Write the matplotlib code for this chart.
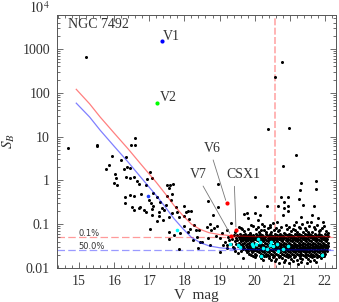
import matplotlib
matplotlib.use('Agg')
import matplotlib.pyplot as plt
from matplotlib.ticker import FixedLocator, LogLocator, NullFormatter, MultipleLocator

plt.rcParams['font.family'] = 'Liberation Serif'
plt.rcParams['mathtext.fontset'] = 'stix'

# isolated field stars (V mag, S_B)
star_v = [15.20, 14.68, 15.50, 15.52, 16.48, 16.59, 16.59, 20.77, 20.59, 20.39, 20.98,
          21.19, 20.81, 21.31, 21.76, 21.29, 21.75, 20.02, 20.74, 20.95, 21.26, 20.83,
          21.37, 21.69, 20.34, 20.67, 20.84, 20.96,
          15.94, 15.85, 15.76, 16.20, 16.33, 16.02, 16.06, 16.00, 16.09, 16.27, 16.37,
          16.46, 16.57, 16.35, 16.44, 16.66, 16.72, 16.93, 17.01, 17.09,
          16.31, 16.32, 16.45, 16.56, 16.76, 16.50, 16.71, 16.84, 16.56, 16.74, 16.90,
          16.99, 16.92, 17.11, 17.06, 17.11, 17.08, 17.22, 17.31, 17.35, 17.29, 17.27,
          17.07, 17.21, 17.03, 17.51, 17.59, 17.67, 17.56, 17.65, 17.50, 17.61, 17.48,
          17.41, 17.64, 17.57, 17.40, 17.76, 17.80, 17.84, 17.56, 17.71, 17.57, 17.84,
          17.87, 17.99, 18.05, 18.11, 18.19, 17.98, 18.14, 18.27, 18.00, 18.16, 18.11,
          18.33, 18.41, 18.35, 18.24, 18.44, 18.39, 18.66, 18.63, 18.73, 18.75, 18.84,
          18.94, 18.96, 18.68, 18.80, 18.95, 18.91, 19.01, 19.08, 19.20, 19.28, 19.09,
          19.55, 19.63, 19.70, 19.89, 20.01, 19.82, 19.34, 19.77, 20.10, 20.15, 20.27,
          20.44, 20.81, 20.96, 21.32, 21.48, 21.62, 21.81, 21.95, 21.19, 20.63,
          19.32, 19.22, 19.42, 19.01, 18.73, 18.49, 19.68,
          19.15, 19.25, 19.38, 19.40, 19.45, 19.52, 19.60, 19.35, 19.20]
star_s = [670, 5.6, 6.4, 6.0, 6.4, 6.4, 9.4, 500, 226, 14.8, 15.7,
          3.8, 2.17, 0.86, 0.95, 0.59, 0.64, 0.41, 0.42, 0.42, 0.38, 0.32,
          0.28, 0.26, 0.26, 0.26, 0.24, 0.26,
          3.6, 2.24, 1.82, 2.9, 3.4, 1.4, 1.15, 0.86, 0.78, 1.79, 2.0,
          1.95, 1.17, 1.2, 1.15, 0.98, 0.83, 1.06, 1.58, 1.15,
          0.41, 0.30, 0.47, 0.45, 0.49, 0.25, 0.24, 0.21, 0.21, 0.25, 0.19,
          0.36, 0.80, 0.51, 0.30, 0.26, 0.22, 0.41, 0.32, 0.23, 0.19, 0.15,
          0.16, 0.12, 0.076, 0.79, 0.78, 0.84, 0.66, 0.49, 0.45, 0.36, 0.27,
          0.21, 0.18, 0.145, 0.125, 0.25, 0.19, 0.144, 0.065, 0.057, 0.047, 0.027,
          0.062, 0.26, 0.19, 0.20, 0.20, 0.15, 0.13, 0.098, 0.093, 0.076, 0.066,
          0.074, 0.074, 0.052, 0.044, 0.040, 0.028, 0.048, 0.087, 0.10, 0.074, 0.081,
          0.091, 0.81, 0.34, 0.16, 0.25, 0.054, 0.048, 0.062, 0.074, 0.044, 0.034,
          0.087, 0.079, 0.17, 0.096, 0.18, 0.136, 0.107, 0.18, 0.125, 0.16, 0.09,
          0.088, 0.16, 0.20, 0.148, 0.114, 0.16, 0.136, 0.11, 0.114, 0.114,
          0.035, 0.029, 0.028, 0.0236, 0.033, 0.040, 0.0166,
          0.040, 0.052, 0.030, 0.058, 0.025, 0.022, 0.024, 0.046, 0.033]

# ragged upper and lower edges of the cluster clump
edge_v = [19.45, 19.71, 19.88, 20.03, 20.12, 20.26, 20.38, 20.47, 20.55, 20.66, 20.74,
          20.85, 20.93, 21.03, 21.11, 21.21, 21.30, 21.39, 21.47, 21.56, 21.64, 21.73,
          21.82, 21.91, 22.02, 19.61, 19.95, 20.20, 20.33, 20.52, 20.70, 20.98, 21.16,
          21.36, 21.52, 21.68, 21.87, 22.08, 20.09, 20.43, 20.88, 21.25, 21.60, 21.98,
          20.60, 21.44, 19.80, 21.08, 21.77, 20.18,
          20.02, 20.19, 20.31, 20.40, 20.53, 20.62, 20.70, 20.79, 20.87, 20.95, 21.04,
          21.12, 21.20, 21.28, 21.36, 21.45, 21.53, 21.62, 21.70, 21.79, 21.88, 21.96,
          20.24, 20.58, 20.83, 21.08, 21.32, 21.58, 21.75, 20.46, 20.98, 21.24, 21.48,
          20.70]
edge_s = [0.066, 0.071, 0.064, 0.078, 0.066, 0.072, 0.083, 0.065, 0.075, 0.069, 0.088,
          0.064, 0.077, 0.070, 0.094, 0.066, 0.080, 0.068, 0.075, 0.090, 0.065, 0.078,
          0.069, 0.084, 0.070, 0.082, 0.092, 0.100, 0.068, 0.105, 0.074, 0.087, 0.072,
          0.100, 0.068, 0.085, 0.075, 0.064, 0.085, 0.095, 0.098, 0.087, 0.110, 0.092,
          0.082, 0.083, 0.078, 0.079, 0.096, 0.074,
          0.0180, 0.0172, 0.0183, 0.0165, 0.0177, 0.0160, 0.0181, 0.0168, 0.0152, 0.0175,
          0.0162, 0.0178, 0.0150, 0.0170, 0.0158, 0.0180, 0.0163, 0.0174, 0.0155, 0.0178,
          0.0166, 0.0184, 0.0155, 0.0145, 0.0138, 0.0143, 0.0135, 0.0142, 0.0140, 0.0150,
          0.0128, 0.0124, 0.0130, 0.0132]

# saturated core of the clump: S_B level and V mags of stars along it
core_s = [0.060, 0.057, 0.054, 0.0507, 0.048, 0.045, 0.0427, 0.0403, 0.038, 0.0359,
          0.0339, 0.032, 0.0302, 0.0285, 0.0269, 0.0254, 0.024, 0.0226, 0.0214, 0.0202,
          0.0191]
core_v = [
    [19.58, 19.73, 19.86, 20.03, 20.15, 20.31, 20.43, 20.59, 20.71, 20.87, 20.99, 21.15,
     21.27, 21.43, 21.55, 21.71, 21.83, 21.99],
    [19.51, 19.67, 19.80, 19.94, 20.08, 20.20, 20.36, 20.48, 20.64, 20.76, 20.92, 21.04,
     21.20, 21.32, 21.48, 21.60, 21.76, 21.88, 22.05],
    [19.62, 19.76, 19.91, 20.12, 20.25, 20.40, 20.53, 20.68, 20.81, 20.96, 21.09, 21.24,
     21.37, 21.52, 21.65, 21.80, 21.93, 22.09],
    [19.55, 19.70, 19.84, 19.98, 20.05, 20.18, 20.30, 20.45, 20.57, 20.73, 20.85, 21.01,
     21.13, 21.29, 21.41, 21.57, 21.69, 21.85, 21.97],
    [19.47, 19.64, 19.79, 19.92, 20.10, 20.23, 20.37, 20.50, 20.63, 20.78, 20.90, 21.06,
     21.18, 21.34, 21.46, 21.62, 21.74, 21.90, 22.02],
    [19.58, 19.73, 19.87, 20.01, 20.15, 20.28, 20.42, 20.55, 20.69, 20.82, 20.96, 21.10,
     21.23, 21.38, 21.51, 21.66, 21.79, 21.95, 22.07],
    [19.50, 19.66, 19.81, 19.95, 20.06, 20.20, 20.33, 20.47, 20.60, 20.74, 20.88, 21.01,
     21.15, 21.29, 21.42, 21.56, 21.71, 21.84, 21.99],
    [19.43, 19.61, 19.76, 19.90, 20.11, 20.25, 20.38, 20.52, 20.65, 20.79, 20.93, 21.06,
     21.20, 21.33, 21.47, 21.61, 21.76, 21.89, 22.04],
    [19.55, 19.70, 19.85, 19.99, 20.16, 20.29, 20.43, 20.57, 20.70, 20.84, 20.98, 21.11,
     21.25, 21.38, 21.52, 21.66, 21.80, 21.94, 22.08],
    [19.48, 19.64, 19.79, 19.93, 20.04, 20.19, 20.34, 20.48, 20.61, 20.75, 20.89, 21.02,
     21.16, 21.30, 21.43, 21.57, 21.71, 21.85, 21.98],
    [19.58, 19.74, 19.88, 20.09, 20.23, 20.39, 20.53, 20.66, 20.80, 20.94, 21.07, 21.21,
     21.34, 21.48, 21.62, 21.75, 21.90, 22.03],
    [19.52, 19.68, 19.83, 19.97, 20.14, 20.27, 20.44, 20.58, 20.71, 20.85, 20.99, 21.12,
     21.26, 21.39, 21.53, 21.67, 21.81, 21.95, 22.08],
    [19.62, 19.77, 19.92, 20.02, 20.18, 20.32, 20.49, 20.62, 20.76, 20.90, 21.03, 21.17,
     21.30, 21.44, 21.58, 21.72, 21.86, 22.00],
    [19.70, 19.86, 20.07, 20.22, 20.36, 20.53, 20.67, 20.81, 20.95, 21.08, 21.22, 21.35,
     21.49, 21.63, 21.77, 21.91, 22.05],
    [19.66, 19.81, 19.96, 20.12, 20.27, 20.41, 20.58, 20.72, 20.86, 21.00, 21.13, 21.27,
     21.40, 21.54, 21.68, 21.82, 21.96],
    [19.74, 19.90, 20.02, 20.17, 20.31, 20.46, 20.63, 20.77, 20.91, 21.05, 21.18, 21.32,
     21.45, 21.59, 21.73, 21.87, 22.01],
    [19.80, 19.95, 20.08, 20.22, 20.36, 20.51, 20.68, 20.82, 20.96, 21.10, 21.23, 21.37,
     21.50, 21.64, 21.78, 21.92, 22.06],
    [19.77, 19.92, 20.13, 20.27, 20.41, 20.56, 20.73, 20.87, 21.01, 21.15, 21.28, 21.42,
     21.55, 21.69, 21.83, 21.97],
    [19.85, 20.00, 20.18, 20.32, 20.46, 20.61, 20.78, 20.92, 21.06, 21.20, 21.33, 21.47,
     21.60, 21.74, 21.88, 22.01],
    [19.90, 20.05, 20.23, 20.37, 20.51, 20.66, 20.83, 20.97, 21.11, 21.25, 21.38, 21.52,
     21.65, 21.79, 21.93],
    [19.96, 20.14, 20.28, 20.42, 20.56, 20.71, 20.88, 21.02, 21.16, 21.30, 21.43, 21.57,
     21.70, 21.84, 21.97],
]

# cyan-marked stars
cyan_v = [17.80, 19.30, 19.53, 19.58, 19.92, 19.96, 20.04, 20.10, 20.15, 20.18, 20.24,
          20.34, 20.43, 20.48, 20.53, 20.63, 20.67, 20.81, 20.96, 21.91]
cyan_s = [0.072, 0.035, 0.034, 0.030, 0.036, 0.031, 0.035, 0.046, 0.040, 0.019, 0.029,
          0.027, 0.034, 0.040, 0.031, 0.036, 0.024, 0.027, 0.031, 0.020]

# variables
v1 = (17.35, 1510)
v2 = (17.23, 58)
v6 = (19.20, 0.305)
v7 = (19.33, 0.055)
csx1 = (19.47, 0.075)
blue_star = (16.95, 0.45)

# detection thresholds
curve_v = [14.92, 15.3, 15.6, 16.0, 16.4, 16.75, 17.2, 17.45, 17.7, 17.95, 18.2, 18.45,
           18.7, 19.0, 19.4, 20.0, 21.0, 22.15]
blue_s = [58, 28, 14, 6.0, 2.6, 1.2, 0.45, 0.25, 0.135, 0.08, 0.05, 0.038,
          0.032, 0.029, 0.027, 0.0262, 0.026, 0.026]
red_s = [120, 56, 28, 12, 5.2, 2.4, 0.9, 0.5, 0.27, 0.16, 0.10, 0.076,
         0.064, 0.058, 0.054, 0.052, 0.052, 0.052]
level_01 = 0.051
level_50 = 0.026
v_limit = 20.57

cv, cs = [], []
for s, row in zip(core_s, core_v):
    cv += row
    cs += [s] * len(row)

fig = plt.figure(figsize=(3.39, 3.02), dpi=100)
ax = fig.add_axes([0.168, 0.1126, 0.8245, 0.8377])
ax.set_yscale('log')
ax.set_xlim(14.37, 22.33)
ax.set_ylim(0.01, 5970)

ax.axvline(v_limit, color='#ffb4b4', lw=1.4, ls=(0, (3.6, 1.2)), zorder=1)
ax.axhline(level_01, color='#ff9a9a', lw=0.9, ls=(0, (6, 2.6)), zorder=1)
ax.axhline(level_50, color='#9a9aff', lw=0.9, ls=(0, (6, 2.6)), zorder=1)

ax.plot(star_v, star_s, 'o', color='k', ms=2.2, mew=0, zorder=2)
ax.plot(edge_v, edge_s, 'o', color='k', ms=2.2, mew=0, zorder=2)
ax.plot(cv, cs, 'o', color='k', ms=2.2, mew=0, zorder=2)

ax.plot(curve_v, red_s, color='red', alpha=0.5, lw=0.9, zorder=3)
ax.plot(curve_v, blue_s, color='blue', alpha=0.5, lw=0.9, zorder=3)

ax.plot(cyan_v, cyan_s, 'o', color='cyan', ms=2.6, mew=0, zorder=4)
ax.plot(*blue_star, 'o', color='#2040ff', ms=2.6, mew=0, zorder=4)
ax.plot(*v1, 'o', color='blue', ms=3, mew=0, zorder=4)
ax.plot(*v2, 'o', color='#00ff00', ms=3, mew=0, zorder=4)
for p in (v6, v7, csx1):
    ax.plot(*p, 'o', color='red', ms=3, mew=0, zorder=5)

tc = '#333333'
ax.annotate('V1', xy=v1, xytext=(1, 3.5), textcoords='offset points', va='center',
            fontsize=10, color=tc)
ax.annotate('V2', xy=v2, xytext=(1.5, 4), textcoords='offset points', va='center',
            fontsize=10, color=tc)
lead = dict(arrowstyle='-', color='#777777', lw=0.6, shrinkA=1.5, shrinkB=2)
ax.annotate('V6', xy=v6, xytext=(18.80, 5.3), ha='center', va='center', fontsize=10,
            color=tc, arrowprops=dict(lead, relpos=(0.45, 0)))
ax.annotate('V7', xy=v7, xytext=(18.40, 1.33), ha='center', va='center', fontsize=10,
            color=tc, arrowprops=dict(lead, relpos=(0.62, 0)))
ax.annotate('CSX1', xy=csx1, xytext=(19.69, 1.33), ha='center', va='center', fontsize=10,
            color=tc, arrowprops=dict(lead, relpos=(0.22, 0)))

ax.text(0.039, 0.964, 'NGC 7492', transform=ax.transAxes, va='center', fontsize=10, color=tc)
ax.text(14.98, 0.061, '0.1%', family='DejaVu Sans', fontsize=6, va='center', color=tc)
ax.text(14.98, 0.031, '50.0%', family='DejaVu Sans', fontsize=6, va='center', color=tc)

ax.yaxis.set_major_locator(FixedLocator([0.01, 0.1, 1, 10, 100, 1000]))
ax.set_yticklabels(['0.01', '0.1', '1', '10', '100', '1000'])
ax.yaxis.set_minor_locator(LogLocator(base=10, subs=range(2, 10), numticks=20))
ax.yaxis.set_minor_formatter(NullFormatter())
ax.text(-0.025, 1.026, r'$10^4$', transform=ax.transAxes, ha='right',
        va='center', fontsize=10, color=tc, clip_on=False)
ax.xaxis.set_major_locator(MultipleLocator(1))
ax.xaxis.set_minor_locator(MultipleLocator(0.2))

ax.tick_params(which='both', direction='in', top=True, right=True, color='#555555',
               width=0.6, labelsize=10, labelcolor=tc, pad=5)
ax.tick_params(which='major', length=4.5)
ax.tick_params(which='minor', length=2.5)
for sp in ax.spines.values():
    sp.set_color('#555555')
    sp.set_linewidth(0.7)

ax.set_xlabel('V  mag', fontsize=11, color=tc, labelpad=1)
ax.set_ylabel(r'$S_B$', fontsize=11, color=tc, labelpad=4)

fig.savefig('out.png', dpi=100)
